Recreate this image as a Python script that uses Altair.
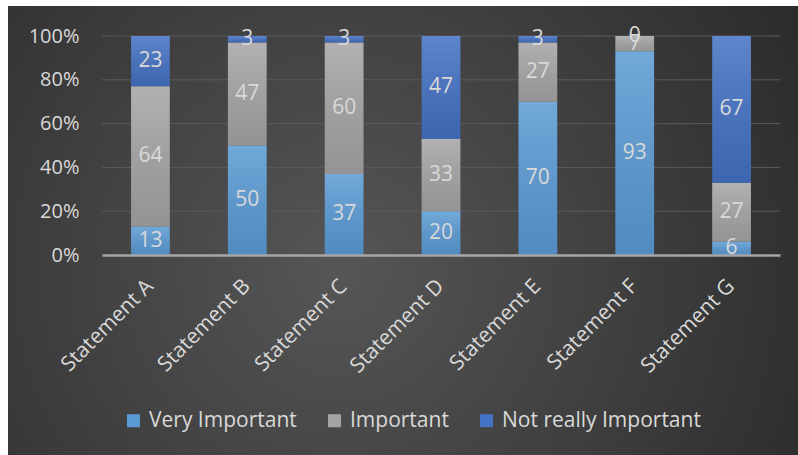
import altair as alt
import pandas as pd

# Survey responses per statement (percent of respondents)
statements = ["Statement A", "Statement B", "Statement C", "Statement D",
              "Statement E", "Statement F", "Statement G"]
very_important = [13, 50, 37, 20, 70, 93, 6]
important = [64, 47, 60, 33, 27, 7, 27]
not_really_important = [23, 3, 3, 47, 3, 0, 67]

series_names = ["Very Important", "Important", "Not really Important"]
series_colors = ["#5B9BD5", "#A5A5A5", "#4472C4"]
grid_values = [0.2, 0.4, 0.6, 0.8, 1.0]

rows = []
for i, s in enumerate(statements):
    for order, (name, vals) in enumerate(zip(series_names,
                                             [very_important, important, not_really_important])):
        rows.append({"statement": s, "series": name, "value": vals[i], "order": order})
df = pd.DataFrame(rows)

FONT = "Open Sans"
TEXT = "#d9d9d9"

# Dark backdrop with a soft radial glow
backdrop = alt.Chart(pd.DataFrame({"a": [0]})).mark_rect(
    color=alt.Gradient(
        gradient="radial",
        x1=0.42, y1=0.55, r1=0.0,
        x2=0.42, y2=0.55, r2=0.75,
        stops=[alt.GradientStop(color="#565656", offset=0),
               alt.GradientStop(color="#262626", offset=1)],
    )
).encode(x=alt.value(-94), x2=alt.value(696), y=alt.value(-30), y2=alt.value(419))

# Horizontal gridlines behind the bars
grid = alt.Chart(pd.DataFrame({"g": grid_values})).mark_rule(
    color="#5a5a5a", strokeWidth=1
).encode(y=alt.Y("g:Q"))

base = alt.Chart(df).transform_stack(
    stack="value",
    groupby=["statement"],
    as_=["y0", "y1"],
    sort=[alt.SortField(field="order", order="ascending")],
    offset="normalize",
)

x_enc = alt.X("statement:N", sort=statements, title=None,
              scale=alt.Scale(paddingInner=0.6, paddingOuter=0.3),
              axis=alt.Axis(labelAngle=-45, labelFontSize=21, labelColor=TEXT,
                            labelFont=FONT, labelPadding=20, labelOffset=-8,
                            ticks=False, grid=False,
                            domainColor="#a6a6a6", domainWidth=2.5, zindex=1))
y_enc = alt.Y("y0:Q", title=None, scale=alt.Scale(domain=[0, 1], nice=False),
              axis=alt.Axis(format=".0%", values=[0, 0.2, 0.4, 0.6, 0.8, 1.0],
                            labelFontSize=20, labelColor=TEXT, labelFont=FONT,
                            labelPadding=23, ticks=False, domain=False, grid=False,
                            zindex=1))

bars = base.mark_bar().encode(
    x=x_enc,
    y=y_enc,
    y2="y1:Q",
    color=alt.Color("series:N", sort=series_names,
                    scale=alt.Scale(domain=series_names, range=series_colors),
                    legend=alt.Legend(title=None, orient="none", direction="horizontal",
                                      legendX=21, legendY=374,
                                      symbolType="square", symbolSize=170,
                                      symbolStrokeWidth=0, symbolOpacity=1,
                                      labelFontSize=21, labelColor=TEXT, labelFont=FONT,
                                      labelLimit=400, labelOffset=5, columnPadding=27)),
)

# Vertical shading on every segment: lighter on top, deeper at the bottom
shade = base.mark_bar(
    color=alt.Gradient(
        gradient="linear", x1=0, y1=0, x2=0, y2=1,
        stops=[alt.GradientStop(color="rgba(255,255,255,0.14)", offset=0),
               alt.GradientStop(color="rgba(0,0,0,0.10)", offset=1)],
    )
).encode(x=alt.X("statement:N", sort=statements), y="y0:Q", y2="y1:Q")

labels = base.transform_calculate(mid="(datum.y0 + datum.y1) / 2").mark_text(
    fontSize=21, font=FONT, color=TEXT, baseline="middle", align="center"
).encode(x=alt.X("statement:N", sort=statements), y="mid:Q", text="value:Q")

chart = alt.layer(backdrop, grid, bars, shade, labels).properties(
    width=678, height=219,
    autosize=alt.AutoSizeParams(type="none"),
    padding={"left": 102, "top": 36, "right": 18, "bottom": 200},
    background="#ffffff",
).configure_view(stroke=None)

chart.save("out.html", embed_options={"renderer": "svg", "actions": False})
